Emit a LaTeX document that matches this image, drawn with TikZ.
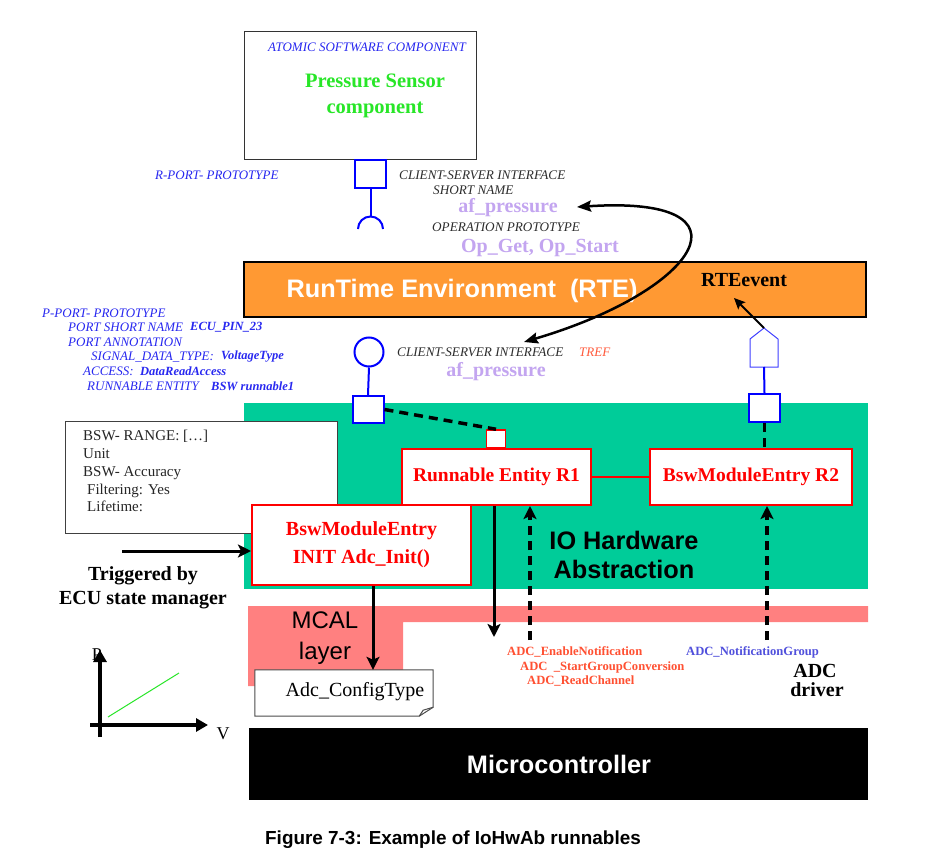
\documentclass[tikz,border=0pt]{standalone}
\usepackage{fontspec}
\setmainfont{Liberation Serif}
\newfontfamily\arialf{Liberation Sans}
\usetikzlibrary{arrows.meta}
\definecolor{portblue}{RGB}{0,0,255}
\definecolor{itblue}{RGB}{40,40,240}
\definecolor{itgray}{RGB}{45,45,45}
\definecolor{lav}{RGB}{195,165,240}
\definecolor{rteor}{RGB}{255,153,51}
\definecolor{iohw}{RGB}{0,204,153}
\definecolor{mcal}{RGB}{255,128,128}
\definecolor{psgreen}{RGB}{40,230,40}
\definecolor{adcred}{RGB}{255,80,50}
\definecolor{adcblue}{RGB}{80,80,220}
\definecolor{trefc}{RGB}{255,90,60}
\newcommand\myfs[1]{\fontsize{#1}{#1}\selectfont}
\begin{document}
\begin{tikzpicture}[x=1pt,y=-1pt,
  itb/.style={font=\myfs{13}\itshape, text=itblue, inner sep=0},
  itbb/.style={font=\myfs{12.5}\itshape\bfseries, text=itblue, inner sep=0},
  itg/.style={font=\myfs{13.2}\itshape, text=itgray, inner sep=0},
  lavt/.style={font=\myfs{20}\bfseries, text=lav, inner sep=0},
  port/.style={draw=portblue, line width=2pt, fill=white, inner sep=0},
  bline/.style={draw=portblue, line width=2pt},
  rbox/.style={draw=red, line width=2pt, fill=white, text=red, font=\bfseries\myfs{19.5}, inner sep=0},
  thickarrow/.style={line width=3pt, -{Stealth[length=13pt,width=13pt,inset=3pt]}},
  dashline/.style={line width=3.5pt, dash pattern=on 9pt off 6pt},
  dasharrow/.style={dashline, -{Stealth[length=13pt,width=13pt,inset=3pt]}},
  adct/.style={font=\myfs{12.6}\bfseries, text=adcred, inner sep=0},
  adcb/.style={font=\myfs{12.6}\bfseries, text=adcblue, inner sep=0}]
\useasboundingbox (0,0) rectangle (943,859);
\fill[white] (0,0) rectangle (943,859);

% atomic software component
\node[draw=black!80, line width=1pt, fill=white, minimum width=232, minimum height=127, inner sep=0] (atomic) at (360,95.5) {};
\node[itb] (atomlbl) at (367,47) {ATOMIC SOFTWARE COMPONENT};
\node[font=\bfseries\fontsize{20.5}{26}\selectfont, text=psgreen, align=center, inner sep=0] (pscomp) at (375,96) {Pressure Sensor\\component};

% R-port
\node[port, minimum width=31, minimum height=28] (rport) at (370.5,174) {};
\coordinate (rtop) at (370.5,216.5);
\draw[bline] (rport.south) -- (rtop);
\draw[bline] (358,229) arc[start angle=180,end angle=360,radius=12.5];
\node[itb, anchor=west] (rportlbl) at (155,175) {R-PORT- PROTOTYPE};
\node[itg, anchor=west] (cs1) at (399,175) {CLIENT-SERVER INTERFACE};
\node[itg, anchor=west] (sn) at (433,190) {SHORT NAME};
\node[lavt] (afp1) at (508,208) {af\_pressure};
\node[itg, anchor=west] (op) at (432,227) {OPERATION PROTOTYPE};
\node[lavt] (opget) at (540,248) {Op\_Get, Op\_Start};

% RTE
\node[draw=black, line width=1.5pt, fill=rteor, minimum width=622, minimum height=55, inner sep=0] (rte) at (555,289.5) {};
\node[font=\arialf\bfseries\myfs{25.3}, text=white, inner sep=0] (rtelbl) at (462,291) {RunTime Environment\ \ (RTE)};
\node[font=\bfseries\myfs{20}, inner sep=0] (rteevt) at (744,280) {RTEevent};

% IO hardware abstraction region
\node[fill=iohw, minimum width=624, minimum height=186, inner sep=0] (iohwab) at (556,496) {};
% MCAL region
\fill[mcal] (248,606) -- (868,606) -- (868,622) -- (403,622) -- (403,686) -- (248,686) -- cycle;
\node[font=\arialf\fontsize{24}{31}\selectfont, align=center, inner sep=0] (mcallbl) at (325,638) {MCAL\\layer};
% Microcontroller
\node[fill=black, minimum width=619, minimum height=72, inner sep=0] (mc) at (558.5,764) {};
\node[font=\arialf\bfseries\myfs{25.3}, text=white, inner sep=0] (mclbl) at (559,764) {Microcontroller};

% P-port
\node[port, circle, minimum size=29] (pcirc) at (369,352) {};
\node[port, minimum width=31, minimum height=27] (pport) at (368,409.5) {};
\draw[bline] (pcirc.south) -- (pport.north);
\node[itg, anchor=west] (cs2) at (397,352) {CLIENT-SERVER INTERFACE};
\node[font=\myfs{13}\itshape, text=trefc, inner sep=0, anchor=west] (tref) at (579,352) {TREF};
\node[lavt] (afp2) at (496,372) {af\_pressure};

\node[itb, anchor=west] (pp1) at (42,313) {P-PORT- PROTOTYPE};
\node[itb, anchor=west] (pp2) at (68,327) {PORT SHORT NAME};
\node[itbb, anchor=west] (pp2b) at (190,327) {ECU\_PIN\_23};
\node[itb, anchor=west] (pp3) at (68,342) {PORT ANNOTATION};
\node[itb, anchor=west] (pp4) at (91,357) {SIGNAL\_DATA\_TYPE:};
\node[itbb, anchor=west] (pp4b) at (221,357) {VoltageType};
\node[itb, anchor=west] (pp5) at (83,371) {ACCESS:};
\node[itbb, anchor=west] (pp5b) at (140,371) {DataReadAccess};
\node[itb, anchor=west] (pp6) at (87,386) {RUNNABLE ENTITY};
\node[itbb, anchor=west] (pp6b) at (211,386) {BSW runnable1};

% RTE event port
\node[port, minimum width=31, minimum height=28] (rp) at (764.5,408) {};
\coordinate (pentop) at (764,328);
\coordinate (penbot) at (764,367);
\draw[draw=portblue!75, line width=1pt, fill=white] (750,339) -- (pentop) -- (778,339) -- (778,367) -- (750,367) -- cycle;
\draw[bline] (penbot) -- (rp.north);
\coordinate (rtetip) at (734,298);
\draw[line width=2pt, -{Stealth[length=11pt,width=10pt,inset=2pt]}] (pentop) -- (rtetip);

% runnables
\node[rbox, minimum width=189, minimum height=56] (r1) at (496.5,477) {Runnable Entity R1};
\node[rbox, minimum width=202, minimum height=56] (r2) at (751,477) {BswModuleEntry R2};
\node[draw=red, line width=1.5pt, fill=white, minimum width=19, minimum height=18, inner sep=0] (sq) at (496,439) {};
\draw[red, line width=2pt] (r1.east) -- (r2.west);
\draw[dashline] (pport.east) -- (sq.north);
\draw[dashline] (rp.south) -- (rp.south |- r2.north);

\node[font=\arialf\bfseries\fontsize{25.3}{29}\selectfont, align=center, inner sep=0] (iolbl) at (624,555) {IO Hardware\\Abstraction};

% BSW range box
\node[draw=black!75, line width=1pt, fill=white, minimum width=272, minimum height=112, inner sep=0] (range) at (201,477) {};
\node[anchor=north west, align=left, font=\fontsize{15}{17.8}\selectfont, inner sep=0, text=black!85] (rangetxt) at (83,430) {BSW- RANGE: […]\\Unit\\BSW- Accuracy\\\hspace*{4pt}Filtering: Yes\\\hspace*{4pt}Lifetime:};

% init box
\node[rbox, minimum width=219, minimum height=80, align=center, font=\bfseries\fontsize{20}{28}\selectfont] (init) at (361.5,545) {BswModuleEntry\\INIT Adc\_Init()};
\coordinate (trig) at (122,551);
\draw[thickarrow] (trig) -- (trig -| init.west);
\node[font=\bfseries\fontsize{20}{24}\selectfont, align=center, inner sep=0] (triglbl) at (143,588) {Triggered by\\ECU state manager};

% Adc_ConfigType
\node[minimum width=178, minimum height=46, inner sep=0] (adc) at (344,693) {};
\draw[black!70, line width=1pt, fill=white] (adc.north west) -- (adc.north east) -- ([yshift=9pt]adc.south east) -- ([xshift=-14pt]adc.south east) -- (adc.south west) -- cycle;
\draw[black!70, line width=1pt] ([xshift=-14pt]adc.south east) -- ([xshift=-10pt,yshift=6pt]adc.south east) -- ([yshift=9pt]adc.south east);
\node[font=\myfs{20}, inner sep=0] (adclbl) at (355,692) {Adc\_ConfigType};
\draw[thickarrow] ([xshift=11.5pt]init.south) -- ([xshift=29pt]adc.north);

% arrows from runnables to driver
\coordinate (r1end) at (494,637);
\draw[thickarrow] ([xshift=-2.5pt]r1.south) -- (r1end);
\coordinate (d1) at (530,640);
\draw[dasharrow] (d1) -- (d1 |- r1.south);
\coordinate (d2) at (767,640);
\draw[dasharrow] (d2) -- (d2 |- r2.south);

% ADC labels
\node[adct, anchor=west] (adc1) at (507,652) {ADC\_EnableNotification};
\node[adct, anchor=west] (adc2) at (520,667) {ADC\ \ \_StartGroupConversion};
\node[adct, anchor=west] (adc3) at (527,681) {ADC\_ReadChannel};
\node[adcb, anchor=west] (adc4) at (686,652) {ADC\_NotificationGroup};
\node[font=\bfseries\myfs{20}, inner sep=0] (adcdrv1) at (815,671) {ADC};
\node[font=\bfseries\myfs{20}, inner sep=0] (adcdrv2) at (817,690) {driver};

% curved client-server arrow
\coordinate (csa) at (577,207);
\coordinate (csb) at (524,342);
\draw[line width=2.5pt, {Stealth[length=14pt,width=11pt,inset=2pt]}-{Stealth[length=14pt,width=11pt,inset=2pt]}] (csa) .. controls (760,195) and (700,290) .. (csb);

% P-V graph
\node[font=\myfs{18}, inner sep=0] (plbl) at (97,655) {P};
\node[font=\myfs{18}, inner sep=0] (vlbl) at (223,734) {V};
\coordinate (ay0) at (100,737);
\coordinate (ay1) at (100,650);
\coordinate (ax0) at (90,725);
\coordinate (ax1) at (208,725);
\draw[line width=3.5pt, -{Triangle[length=12pt,width=13pt]}] (ay0) -- (ay1);
\draw[line width=3.5pt, -{Triangle[length=12pt,width=13pt]}] (ax0) -- (ax1);
\coordinate (g0) at (108,717);
\coordinate (g1) at (179,673);
\draw[psgreen, line width=1pt] (g0) -- (g1);

% caption
\node[font=\arialf\bfseries\myfs{18.9}, inner sep=0] (caption) at (453,840) {Figure 7-3: Example of IoHwAb runnables};
\end{tikzpicture}
\end{document}
